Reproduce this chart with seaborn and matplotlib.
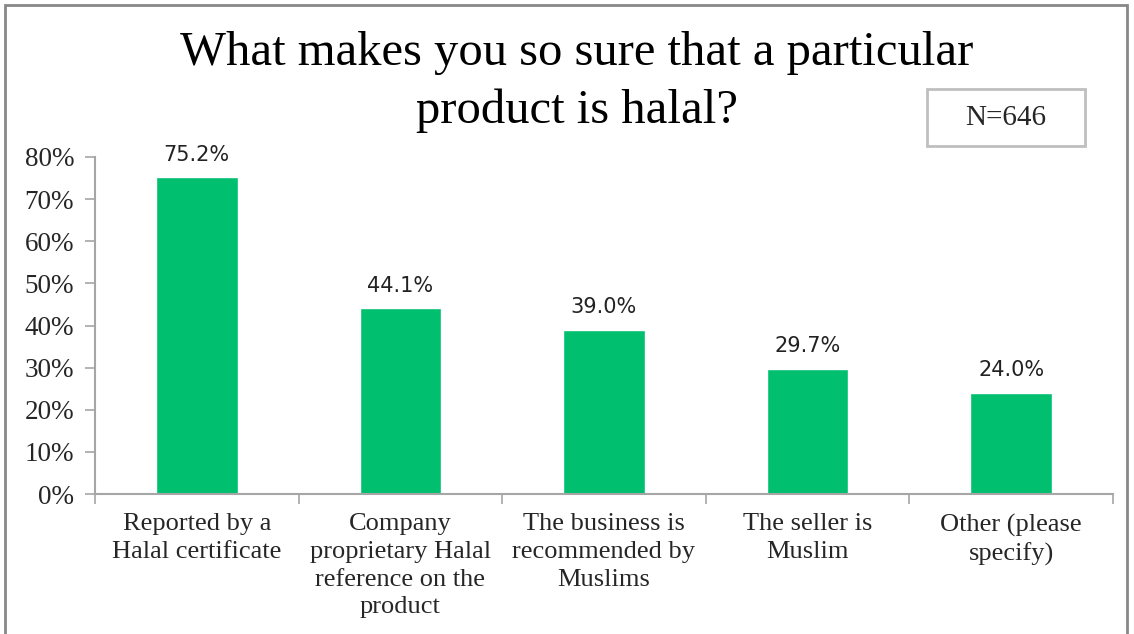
import matplotlib
matplotlib.use("Agg")
import matplotlib.pyplot as plt
import seaborn as sns
import pandas as pd
from matplotlib.patches import Rectangle
from matplotlib.ticker import FixedLocator, FixedFormatter

categories = [
    "Reported by a\nHalal certificate",
    "Company\nproprietary Halal\nreference on the\nproduct",
    "The business is\nrecommended by\nMuslims",
    "The seller is\nMuslim",
    "Other (please\nspecify)",
]
values = [75.2, 44.1, 39.0, 29.7, 24.0]
yticks = [0, 10, 20, 30, 40, 50, 60, 70, 80]
title_lines = ["What makes you so sure that a particular", "product is halal?"]
n_label = "N=646"

sns.set_theme(style="white")
plt.rcParams["font.family"] = ["Liberation Serif", "DejaVu Serif"]

GREEN = "#00BF6F"
GRAY = "#A6A6A6"

fig = plt.figure(figsize=(11.34, 6.34), dpi=100)
ax = fig.add_axes([95/1134, 1-494/634, (1113-95)/1134, (494-157)/634])

df = pd.DataFrame({"cat": categories, "val": values})
sns.barplot(data=df, x="cat", y="val", color=GREEN, width=0.4, ax=ax,
            saturation=1, order=categories)

for c in ax.containers:
    ax.bar_label(c, labels=[f"{v:.1f}%" for v in values], padding=9,
                 fontsize=15, family="DejaVu Sans", color="#222222")

ax.set_ylim(0, 80)
ax.set_xlim(-0.5, len(categories) - 0.5)
ax.set_yticks(yticks)
ax.set_yticklabels([f"{t}%" for t in yticks], fontsize=19.5)
ax.set_xlabel("")
ax.set_ylabel("")

# x ticks at category boundaries, labels at centers
bounds = [i - 0.5 for i in range(len(categories) + 1)]
ax.xaxis.set_major_locator(FixedLocator(bounds))
ax.xaxis.set_major_formatter(FixedFormatter([""] * len(bounds)))
ax.xaxis.set_minor_locator(FixedLocator(list(range(len(categories)))))
ax.xaxis.set_minor_formatter(FixedFormatter(categories))
ax.tick_params(axis="x", which="major", direction="out", length=7, color=GRAY, width=1.2, bottom=True)
ax.tick_params(axis="x", which="minor", length=0, labelsize=19, pad=14, bottom=True)
ax.tick_params(axis="y", direction="out", length=7, color=GRAY, width=1.2, left=True, pad=8)
for lbl in ax.xaxis.get_minorticklabels():
    lbl.set_linespacing(1.33)

for s in ["top", "right"]:
    ax.spines[s].set_visible(False)
for s in ["left", "bottom"]:
    ax.spines[s].set_color(GRAY)
    ax.spines[s].set_linewidth(1.5)
ax.grid(False)

fig.text(577/1134, 1-65/634, title_lines[0], ha="center", va="baseline", fontsize=35, color="black")
fig.text(577/1134, 1-123/634, title_lines[1], ha="center", va="baseline", fontsize=35, color="black")

fig.patches.append(Rectangle((927/1134, 1-146/634), 158/1134, 57/634,
                             transform=fig.transFigure, fill=False,
                             edgecolor="#BFBFBF", linewidth=2))
fig.text(1006/1134, 1-118/634, n_label, ha="center", va="center", fontsize=21)

fig.patches.append(Rectangle((5/1134, -0.05), (1127-5)/1134, 1.05 - 5/634,
                             transform=fig.transFigure, fill=False,
                             edgecolor="#888888", linewidth=2, clip_on=False))

fig.savefig("out.png", dpi=100)
